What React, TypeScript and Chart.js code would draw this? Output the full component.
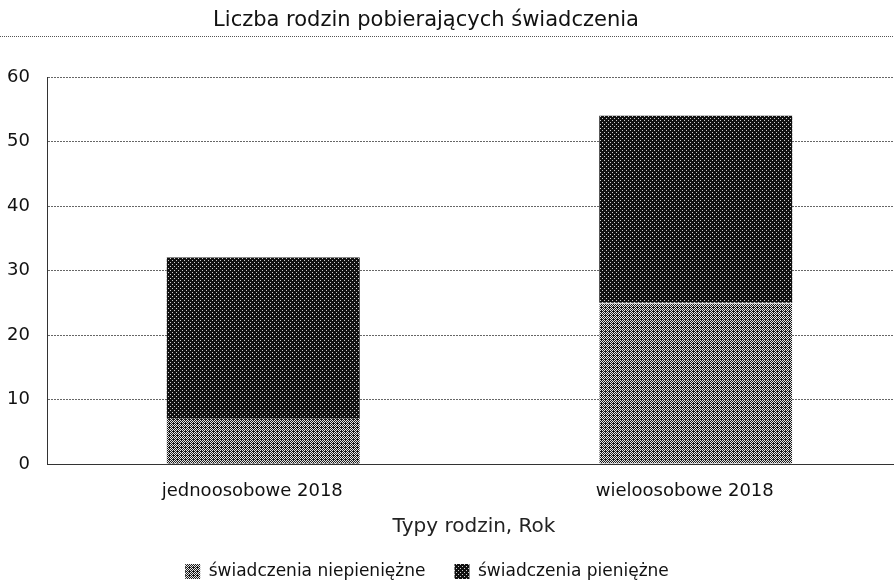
import React, { useEffect, useRef } from "react";
import { Chart, registerables } from "chart.js";

Chart.register(...registerables);

const categories = ["jednoosobowe 2018", "wieloosobowe 2018"];
const seriesNames = ["świadczenia niepieniężne", "świadczenia pieniężne"];
const niepieniezne = [7, 25];
const pieniezne = [25, 29];
const yTicks = [0, 10, 20, 30, 40, 50, 60];
const titleText = "Liczba rodzin pobierających świadczenia";
const xTitle = "Typy rodzin, Rok";

const FONT = "'DejaVu Sans', sans-serif";

const BAYER = [
  [0, 8, 2, 10],
  [12, 4, 14, 6],
  [3, 11, 1, 9],
  [15, 7, 13, 5],
];

function makePattern(level: number, base: string, dot: string) {
  const c = document.createElement("canvas");
  c.width = 4;
  c.height = 4;
  const g = c.getContext("2d")!;
  g.fillStyle = base;
  g.fillRect(0, 0, 4, 4);
  g.fillStyle = dot;
  for (let y = 0; y < 4; y++)
    for (let x = 0; x < 4; x++) if (BAYER[y][x] < level) g.fillRect(x, y, 1, 1);
  return g.createPattern(c, "repeat")!;
}

const headerPlugin = {
  id: "header",
  afterLayout(chart: any) {
    const lg = chart.legend;
    if (lg) {
      lg.left -= 29;
      lg.right -= 29;
    }
  },
  afterDraw(chart: any) {
    const ctx = chart.ctx;
    ctx.save();
    ctx.fillStyle = "#111";
    ctx.font = `21px ${FONT}`;
    ctx.textAlign = "center";
    ctx.textBaseline = "middle";
    ctx.fillText(titleText, 426, 21);
    ctx.fillStyle = "#222";
    ctx.font = `20px ${FONT}`;
    ctx.fillText(xTitle, 474, 527);
    ctx.strokeStyle = "#555";
    ctx.lineWidth = 1;
    ctx.setLineDash([1, 1]);
    ctx.beginPath();
    ctx.moveTo(0, 36.5);
    ctx.lineTo(894, 36.5);
    ctx.stroke();
    ctx.restore();
  },
};

export default function App() {
  const ref = useRef<HTMLCanvasElement>(null);
  useEffect(() => {
    document.body.style.margin = "0";
    document.body.style.overflow = "hidden";
    const lightPat = makePattern(7, "#1a1a1a", "#e6e6e6");
    const darkPat = makePattern(2, "#111111", "#d0d0d0");
    const chart = new Chart(ref.current!, {
      type: "bar",
      data: {
        labels: categories,
        datasets: [
          {
            label: seriesNames[0],
            data: niepieniezne,
            backgroundColor: lightPat,
            borderColor: "#ffffff",
            borderSkipped: false,
            borderWidth: (c: any) =>
              c.dataIndex === 1 ? { top: 1, left: 0, right: 0, bottom: 0 } : 0,
            barPercentage: 0.446,
            categoryPercentage: 1,
          },
          {
            label: seriesNames[1],
            data: pieniezne,
            backgroundColor: darkPat,
            borderWidth: 0,
            barPercentage: 0.446,
            categoryPercentage: 1,
          },
        ],
      },
      plugins: [headerPlugin],
      options: {
        animation: false,
        responsive: false,
        layout: { padding: { top: 77, right: 0, left: 0, bottom: -3 } },
        plugins: {
          title: { display: false },
          tooltip: { enabled: false },
          legend: {
            position: "bottom",
            labels: {
              color: "#111",
              font: { size: 17, family: FONT },
              boxWidth: 15,
              boxHeight: 15,
              padding: 29,
            },
          },
        },
        scales: {
          x: {
            stacked: true,
            grid: { display: false, drawTicks: false },
            border: { display: true, color: "#333", dash: [2, 1] },
            ticks: { color: "#111", font: { size: 18, family: FONT }, padding: 17, labelOffset: -11 },
            afterFit: (axis: any) => {
              axis.height = 70;
            },
          },
          y: {
            stacked: true,
            min: yTicks[0],
            max: yTicks[yTicks.length - 1],
            afterBuildTicks: (axis: any) => {
              axis.ticks = yTicks.map((v) => ({ value: v }));
            },
            afterFit: (axis: any) => {
              axis.width = 47;
            },
            grid: { color: "#666", lineWidth: 1, drawTicks: false },
            border: { display: true, color: "#333", dash: [2, 1] },
            ticks: { color: "#111", font: { size: 18, family: FONT }, padding: 17 },
          },
        },
      },
    } as any);
    const yg: any = (chart.options.scales as any).y.grid;
    yg.borderDash = [1, 2];
    chart.update();
    return () => chart.destroy();
  }, []);
  return (
    <div style={{ width: 894, height: 587, overflow: "hidden" }}>
      <canvas ref={ref} width={912} height={587} style={{ display: "block" }} />
    </div>
  );
}
